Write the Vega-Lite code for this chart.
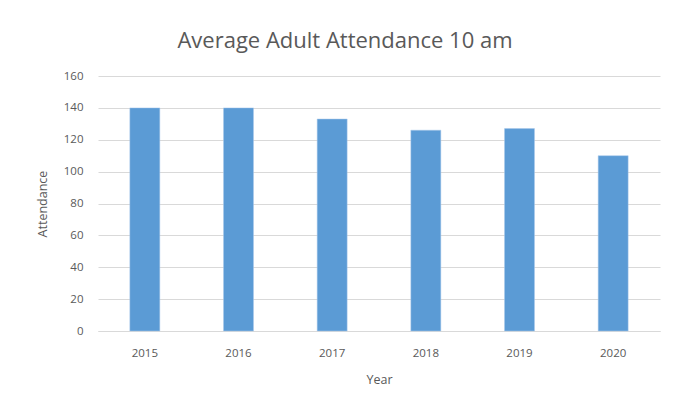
{
  "$schema": "https://vega.github.io/schema/vega-lite/v6.json",
  "width": 562,
  "height": 255,
  "autosize": "none",
  "padding": {"left": 98, "top": 76, "right": 14, "bottom": 79},
  "background": "white",
  "title": {
    "text": "Average Adult Attendance 10 am",
    "font": "Open Sans",
    "fontSize": 22,
    "fontWeight": "normal",
    "color": "#595959",
    "anchor": "middle",
    "dx": -34,
    "offset": 17
  },
  "data": {
    "values": [
      {"Year": "2015", "Attendance": 140},
      {"Year": "2016", "Attendance": 140},
      {"Year": "2017", "Attendance": 133},
      {"Year": "2018", "Attendance": 126},
      {"Year": "2019", "Attendance": 127},
      {"Year": "2020", "Attendance": 110}
    ]
  },
  "mark": {"type": "bar", "color": "#5b9bd5", "stroke": "#a9c8ea", "strokeWidth": 0.5},
  "encoding": {
    "x": {
      "field": "Year",
      "type": "ordinal",
      "scale": {"paddingInner": 0.68, "paddingOuter": 0.34},
      "axis": {
        "labelAngle": 0,
        "ticks": false,
        "domainColor": "#d9d9d9",
        "domainWidth": 1,
        "labelFont": "Open Sans",
        "labelFontSize": 11.5,
        "labelColor": "#595959",
        "labelPadding": 16,
        "title": "Year",
        "titleFont": "Open Sans",
        "titleFontSize": 12.5,
        "titleFontWeight": "normal",
        "titleColor": "#595959",
        "titlePadding": 15
      }
    },
    "y": {
      "field": "Attendance",
      "type": "quantitative",
      "scale": {"domain": [0, 160]},
      "axis": {
        "values": [0, 20, 40, 60, 80, 100, 120, 140, 160],
        "domain": false,
        "ticks": false,
        "gridColor": "#d9d9d9",
        "gridWidth": 1,
        "labelFont": "Open Sans",
        "labelFontSize": 11.5,
        "labelColor": "#595959",
        "labelPadding": 15,
        "title": "Attendance",
        "titleFont": "Open Sans",
        "titleFontSize": 12.5,
        "titleFontWeight": "normal",
        "titleColor": "#595959",
        "titlePadding": 14
      }
    }
  },
  "config": {"view": {"stroke": null}}
}
